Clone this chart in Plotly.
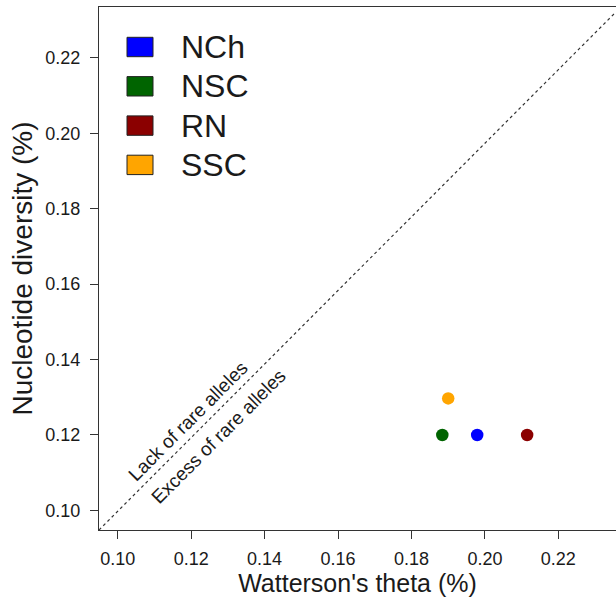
import plotly.graph_objects as go

# Data
populations = ["NCh", "NSC", "RN", "SSC"]
colors = ["#0000FF", "#006400", "#8B0000", "#FFA500"]
watterson_theta = [0.1979, 0.1884, 0.2115, 0.1900]
nucleotide_div = [0.1200, 0.1200, 0.1200, 0.1297]

tick_vals = [0.10, 0.12, 0.14, 0.16, 0.18, 0.20, 0.22]
tick_text = ["0.10", "0.12", "0.14", "0.16", "0.18", "0.20", "0.22"]

# neutral reference line (observed in the figure)
ref_x = [0.0949, 0.2357]
ref_y = [0.0948, 0.2322]

lack_label = "Lack of rare alleles"
excess_label = "Excess of rare alleles"

FONT = "Liberation Sans, Arial, Helvetica, sans-serif"
TXT = "#1a1a1a"

fig = go.Figure()

fig.add_trace(go.Scatter(x=ref_x, y=ref_y, mode="lines",
                         line=dict(color="#333333", width=1.2, dash="dot"),
                         showlegend=False, hoverinfo="skip"))

for name, c, xv, yv in zip(populations, colors, watterson_theta, nucleotide_div):
    fig.add_trace(go.Scatter(x=[xv], y=[yv], mode="markers", name=name,
                             marker=dict(color=c, size=12.5, line=dict(width=0)),
                             showlegend=False))

# manual legend (R style filled boxes)
L, R_, T, B = 99, 616, 7, 530
W, H = R_ - L, B - T
def px(xp):
    return (xp - L) / W
def py(yp):
    return (B - yp) / H

shapes = []
annotations = []
for i, (name, c) in enumerate(zip(populations, colors)):
    cy = 47 + 39.3 * i
    shapes.append(dict(type="rect", xref="paper", yref="paper",
                       x0=px(127), x1=px(153), y0=py(cy + 9.7), y1=py(cy - 9.7),
                       fillcolor=c, line=dict(color="#222222", width=1)))
    annotations.append(dict(xref="paper", yref="paper", x=px(179), y=py(cy),
                            text=name, showarrow=False, xanchor="left", yanchor="middle",
                            font=dict(family=FONT, size=32, color=TXT)))

annotations.append(dict(x=0.1190, y=0.1237, xref="x", yref="y", text=lack_label,
                        showarrow=False, textangle=-45,
                        font=dict(family=FONT, size=19, color=TXT)))
annotations.append(dict(x=0.1274, y=0.1197, xref="x", yref="y", text=excess_label,
                        showarrow=False, textangle=-45,
                        font=dict(family=FONT, size=19, color=TXT)))

fig.update_layout(
    width=616, height=598,
    margin=dict(l=L, r=0, t=T, b=598 - B, autoexpand=False),
    paper_bgcolor="white", plot_bgcolor="white",
    shapes=shapes, annotations=annotations,
    font=dict(family=FONT, color=TXT),
    xaxis=dict(range=[0.0949, 0.2357], tickvals=tick_vals, ticktext=tick_text,
               showgrid=False, zeroline=False, showline=True, mirror=True,
               linecolor="#333333", linewidth=1.3, ticks="outside", ticklen=8,
               tickwidth=1.2, tickcolor="#333333", ticklabelstandoff=4,
               tickfont=dict(family=FONT, size=18, color=TXT),
               title=dict(text="Watterson's theta (%)", standoff=5,
                          font=dict(family=FONT, size=25, color=TXT))),
    yaxis=dict(range=[0.0948, 0.2335], tickvals=tick_vals, ticktext=tick_text,
               showgrid=False, zeroline=False, showline=True, mirror=False,
               linecolor="#333333", linewidth=1.3, ticks="outside", ticklen=8,
               tickwidth=1.2, tickcolor="#333333", ticklabelstandoff=6,
               tickfont=dict(family=FONT, size=18, color=TXT),
               title=dict(text="Nucleotide diversity (%)", standoff=4,
                          font=dict(family=FONT, size=28, color=TXT))),
)

fig.write_html("out.html")
